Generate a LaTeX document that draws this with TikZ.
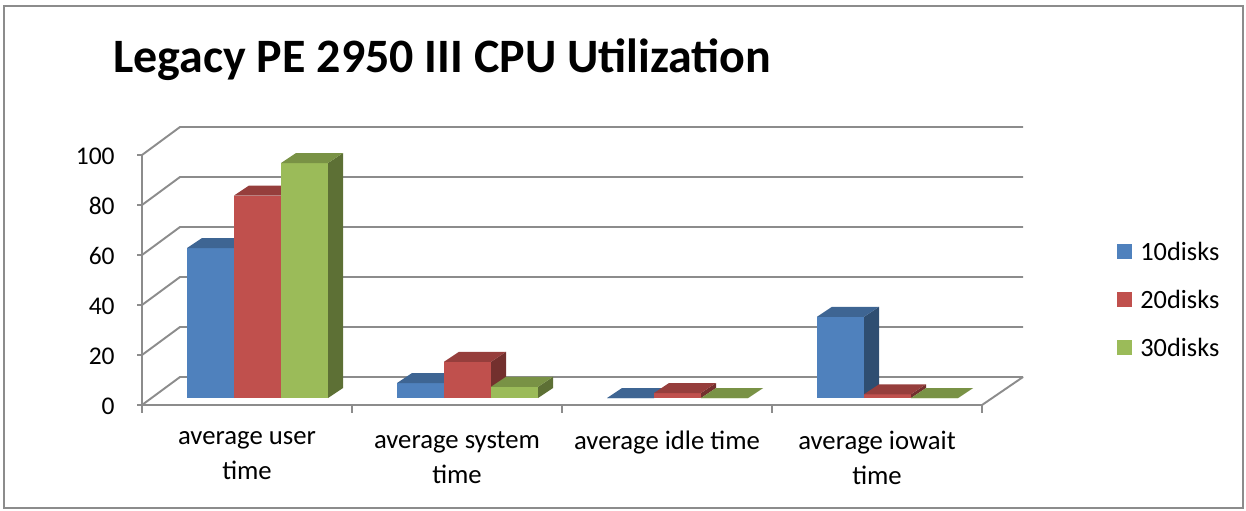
\documentclass[tikz,border=0pt]{standalone}
\usepackage{fontspec}
\setmainfont{Carlito}
\definecolor{blu}{HTML}{4F81BD}
\definecolor{rosso}{HTML}{C0504D}
\definecolor{verde}{HTML}{9BBB59}
\definecolor{griglia}{HTML}{8C8C8C}
\tikzset{
  asse/.style={draw=griglia, line width=1.1pt},
  etichetta/.style={font=\fontsize{14.5}{18}\selectfont, inner sep=0pt},
  categoria/.style={font=\fontsize{15.2}{19.8}\selectfont, inner sep=0pt, align=center, anchor=north},
  legenda/.style={minimum size=0.3cm, inner sep=0pt, fill=#1}
}
% barra 3D: x sinistra, valore, colore
\newcommand{\barra}[3]{
  \fill[#3] (#1,398) rectangle (#1+47,398-2.5*#2);
  \fill[#3!60!black] (#1+47,398) -- (#1+62,388) -- (#1+62,388-2.5*#2) -- (#1+47,398-2.5*#2) -- cycle;
  \fill[#3!78!black] (#1,398-2.5*#2) -- (#1+15,388-2.5*#2) -- (#1+62,388-2.5*#2) -- (#1+47,398-2.5*#2) -- cycle;
}
\begin{document}
\begin{tikzpicture}[x=0.02cm, y=-0.02cm]
    \useasboundingbox (0,0) rectangle (1246,510);
    \draw[griglia, line width=1.1pt] (4,6) rectangle (1243,508);

    % Titolo
    \node[anchor=base west, inner sep=0pt, font=\fontsize{27.3}{33}\selectfont\bfseries] (titolo) at (113,72) {Legacy PE 2950 III CPU Utilization};

    % Griglia di fondo e parete sinistra
    \foreach \k in {0,...,5} {
      \draw[asse] (142,405-50*\k) -- (180,377-50*\k) -- (1023,377-50*\k);
      \draw[asse] (137,405-50*\k) -- (142,405-50*\k);
    }
    \draw[asse] (142,405) -- (142,155);
    \draw[asse] (142,405) -- (982,405) -- (1023,377);
    \foreach \x in {142,352,562,772,982}
      \draw[asse] (\x,405) -- (\x,413);

    % Etichette asse verticale
    \foreach \v/\nome in {0/a,20/b,40/c,60/d,80/e,100/f}
      \node[etichetta, anchor=east] (y\nome) at (115,406-2.5*\v) {\v};

    % Barre
    \barra{187}{60}{blu}
    \barra{234}{81}{rosso}
    \barra{281}{94}{verde}
    \barra{397}{6}{blu}
    \barra{444}{14.5}{rosso}
    \barra{491}{4.5}{verde}
    \barra{607}{0}{blu}
    \barra{654}{2}{rosso}
    \barra{701}{0}{verde}
    \barra{817}{32.5}{blu}
    \barra{864}{1.5}{rosso}
    \barra{911}{0}{verde}

    % Categorie
    \node[categoria] (cat1) at (247,431) {average user\\time};
    \node[categoria] (cat2) at (457,431) {average system\\time};
    \node[categoria] (cat3) at (667,431) {average idle time};
    \node[categoria] (cat4) at (877,431) {average iowait\\time};

    % Legenda
    \node[legenda=blu] (q1) at (1124,251) {};
    \node[legenda=rosso] (q2) at (1124,299) {};
    \node[legenda=verde] (q3) at (1124,347) {};
    \node[etichetta, font=\fontsize{15}{18}\selectfont, anchor=west] (l1) at (1140,251) {10disks};
    \node[etichetta, font=\fontsize{15}{18}\selectfont, anchor=west] (l2) at (1140,299) {20disks};
    \node[etichetta, font=\fontsize{15}{18}\selectfont, anchor=west] (l3) at (1140,347) {30disks};
\end{tikzpicture}
\end{document}
